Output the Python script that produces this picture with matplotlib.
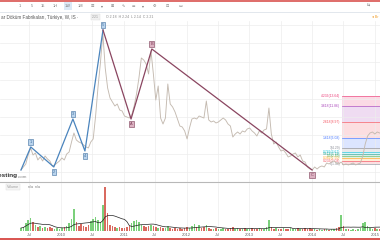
import matplotlib
matplotlib.use("Agg")
import matplotlib.pyplot as plt
import numpy as np
import pandas as pd

plt.rcParams["font.family"] = ["Liberation Sans", "DejaVu Sans"]

# closes, taken every two weeks (TL)
start = "2009-05-13"
closes = [
    0.41, 0.95, 1.48, 3.09, 4.35, 3.09, 3.45, 2.20, 2.74, 2.02,
    2.92, 2.38, 2.02, 1.13, 1.31, 1.66, 2.02, 2.56, 2.20, 3.27,
    3.63, 5.42, 7.03, 5.78, 5.42, 5.24, 4.88, 4.53, 4.35, 5.42,
    5.96, 10.07, 15.26, 19.55, 24.92, 18.66, 15.08, 13.29, 12.58, 11.86,
    12.22, 11.14, 10.97, 10.07, 9.89, 9.71, 10.25, 11.86, 14.01, 16.87,
    20.45, 20.09, 19.37, 17.59, 21.70, 17.59, 12.93, 15.44, 9.71, 8.64,
    9.71, 15.80, 12.22, 11.68, 10.79, 9.53, 8.28, 8.10, 7.39, 5.96,
    7.92, 9.53, 9.71, 9.53, 10.07, 9.89, 9.71, 12.75, 9.36, 9.00,
    9.18, 8.82, 9.00, 9.36, 9.71, 9.36, 8.64, 8.28, 6.31, 6.85,
    7.21, 6.85, 7.39, 7.21, 7.75, 7.92, 7.39, 7.03, 6.49, 7.39,
    7.03, 7.57, 7.75, 11.50, 6.85, 5.06, 5.42, 4.53, 3.81, 3.99,
    3.45, 2.74, 2.92, 3.27, 3.45, 2.74, 3.09, 2.02, 1.84, 0.95,
    0.59, 0.41, 0.95, 0.59, 0.95, 1.13, 0.95, 1.66, 1.48, 1.84,
    2.02, 1.66, 1.48, 1.84, 1.31, 1.48, 1.31, 1.48, 1.66, 1.31,
    1.48, 1.66, 2.92, 5.06, 6.49, 7.03, 7.21, 6.85, 7.21, 7.03,
]
# volume, millions of shares
volumes = [
    1.5, 2.0, 4.0, 5.5, 6.5, 4.5, 3.0, 2.0, 2.5, 1.5,
    2.0, 1.5, 2.0, 1.5, 1.0, 1.5, 1.0, 1.5, 2.0, 2.5,
    4.0, 6.0, 11.0, 4.5, 2.5, 3.5, 2.5, 2.0, 3.0, 5.0,
    6.0, 7.0, 5.5, 4.5, 13.0, 22.0, 9.0, 3.0, 2.5, 2.0,
    1.5, 2.0, 1.5, 1.5, 2.0, 2.5, 4.0, 5.0, 5.5, 4.5,
    3.0, 2.5, 2.0, 2.5, 3.0, 2.5, 2.0, 1.5, 2.0, 1.5,
    1.5, 2.5, 1.5, 1.0, 1.5, 1.0, 1.5, 1.0, 1.5, 2.0,
    1.5, 2.5, 3.5, 2.0, 3.0, 1.5, 2.0, 3.0, 1.5, 1.0,
    1.0, 1.5, 1.0, 1.0, 1.5, 1.0, 1.0, 1.5, 2.0, 1.0,
    1.5, 1.0, 1.0, 1.5, 1.0, 1.0, 1.5, 1.0, 1.0, 1.5,
    1.0, 1.0, 2.0, 5.5, 2.0, 1.0, 1.5, 1.0, 1.0, 1.5,
    1.0, 1.0, 1.5, 1.0, 1.0, 1.5, 1.0, 1.0, 1.5, 1.0,
    1.5, 1.0, 1.0, 0.5, 1.0, 0.5, 1.0, 1.0, 0.5, 1.0,
    1.0, 1.5, 2.0, 8.0, 2.5, 1.0, 1.0, 0.5, 1.0, 0.5,
    1.0, 1.5, 4.0, 4.5, 2.5, 1.5, 1.0, 1.5, 1.0, 1.0,
]

# impulse wave (blue) and correction (maroon) pivots
wave_dates = ["2009-05-13", "2009-07-09", "2009-11-20", "2010-03-11", "2010-05-20", "2010-09-02"]
wave_prices = [0.41, 4.53, 0.95, 9.53, 3.81, 25.46]
wave_labels = ["", "1", "2", "3", "4", "5"]
abc_dates = ["2010-09-02", "2011-02-12", "2011-06-13", "2013-12-31"]
abc_prices = [25.46, 9.53, 22.06, 0.41]
abc_labels = ["", "A", "B", "C"]

# fib extension levels
fib_ratios = [0, 0.236, 0.382, 0.5, 0.618, 0.786, 1, 1.618, 2.618, 3.618, 4.236]
fib_prices = [1.40, 2.08, 2.50, 2.85, 3.19, 3.67, 4.29, 6.08, 8.97, 11.86, 13.64]
fib_colors = ["#787b86", "#f23645", "#ff9800", "#4caf50", "#089981", "#00bcd4",
              "#787b86", "#2962ff", "#f23645", "#9c27b0", "#e91e63"]
fib_start = "2014-06-23"
fib_end = "2015-06-30"

tick_dates = ["2009-07-01", "2010-01-01", "2010-07-01", "2011-01-01", "2011-07-01", "2012-01-01",
              "2012-07-01", "2013-01-01", "2013-07-01", "2014-01-01", "2014-07-01", "2015-01-01"]
tick_labels = ["Jul", "2010", "Jul", "2011", "Jul", "2012", "Jul", "2013", "Jul", "2014", "Jul", "2015"]

dates = pd.date_range(start, periods=len(closes), freq="14D")
close = pd.Series(closes, index=dates)
vol = pd.Series(volumes, index=dates)
xlim = (pd.Timestamp("2009-01-11"), pd.Timestamp("2015-01-30"))
ticks = pd.to_datetime(tick_dates)

W, H = 380, 240
fig = plt.figure(figsize=(3.8, 2.4), dpi=100)
fig.patch.set_facecolor("white")

ax = fig.add_axes([0, 1 - 182 / H, 1, (182 - 21) / H])
axv = fig.add_axes([0, 1 - 231 / H, 1, 48 / H])

grid_kw = dict(color="#ededed", lw=0.5)
for a in (ax, axv):
    a.set_xlim(*xlim)
    a.set_xticks(ticks)
    a.grid(True, axis="x", **grid_kw)
    a.tick_params(length=0)
    for s in a.spines.values():
        s.set_visible(False)
    a.set_facecolor("none")

# price panel
ax.set_ylim(-1.74, 27.07)
ax.set_yticks(np.arange(0, 27, 3.3))
ax.grid(True, axis="y", **grid_kw)
ax.set_xticklabels([])
ax.set_yticklabels([])
ax.spines["bottom"].set_visible(True)
ax.spines["bottom"].set_color("#b8b8b8")
ax.spines["bottom"].set_linewidth(0.8)

fs = pd.Timestamp(fib_start)
fe = pd.Timestamp(fib_end)
for i in range(1, len(fib_ratios)):
    ax.fill_between([fs, fe], fib_prices[i - 1], fib_prices[i],
                    color=fib_colors[i], alpha=0.16, lw=0, zorder=1)
for r, p, c in zip(fib_ratios, fib_prices, fib_colors):
    ax.plot([fs, fe], [p, p], color=c, lw=0.5, alpha=0.75, zorder=2)
    ax.annotate(f"{r:g}({p:.2f})", (fs, p), xytext=(-1.2, 0), textcoords="offset points",
                ha="right", va="center", fontsize=2.4, color=c, alpha=0.85, zorder=3)

ax.plot(close.index, close.values, color="#c4bab0", lw=0.65, zorder=3)


def draw_wave(dts, prices, labels, line_c, face_c, edge_c):
    dts = pd.to_datetime(dts)
    ax.plot(dts, prices, color=line_c, lw=0.9, zorder=4)
    for i in range(1, len(prices)):
        up = prices[i] > prices[i - 1]
        ax.annotate(labels[i], (dts[i], prices[i]), xytext=(0, 2.2 if up else -2.2),
                    textcoords="offset points", ha="center", va="bottom" if up else "top",
                    fontsize=2.8, color=edge_c, zorder=5,
                    bbox=dict(boxstyle="square,pad=0.3", fc=face_c, ec=edge_c, lw=0.4))


draw_wave(wave_dates, wave_prices, wave_labels, "#4a84bd", "#b9d3ec", "#3f6f9f")
draw_wave(abc_dates, abc_prices, abc_labels, "#8a4560", "#dcb2c2", "#7a3a55")

# volume panel
up = close.diff().fillna(0) >= 0
colors = np.where(up, "#7bd07b", "#d96a60")
axv.bar(vol.index, vol.values, width=9, color=colors, zorder=2)
axv.plot(vol.index, vol.rolling(10, min_periods=1).mean(), color="#222222", lw=0.5, zorder=3)
axv.set_ylim(0, 24)
axv.set_yticks([])
axv.set_xticklabels(tick_labels, fontsize=3, color="#666666")
axv.tick_params(axis="x", pad=1.2)

# page chrome in pixel coordinates
deco = fig.add_axes([0, 0, 1, 1], zorder=10)
deco.set_xlim(0, W)
deco.set_ylim(H, 0)
deco.axis("off")
deco.axhline(0.6, color="#d9534f", lw=1.2)
deco.axhline(11.5, color="#dde3ea", lw=0.6)
deco.axhline(239.3, color="#d9534f", lw=1.4)
toolbar = [(20, "1"), (32, "5"), (43, "15"), (55, "1H"), (68, "1W"), (80, "1M"), (92, "☰"),
           (102, "▾"), (112, "⊞"), (123, "∿"), (133, "⚌"), (143, "▾"), (154, "⚙"), (167, "⊡"), (180, "▭"),
           (368, "⇆")]
for x, t in toolbar:
    kw = dict(boxstyle="square,pad=0.4", fc="#dbe9f6", ec="none") if t == "1W" else None
    deco.text(x, 6, t, fontsize=2.8, color="#777777", ha="center", va="center", bbox=kw)
deco.text(1, 17, "ar Döküm Fabrikaları, Türkiye, W, IS ·", fontsize=3.3, color="#555555",
          ha="left", va="center")
deco.text(92, 17, "2.21", fontsize=2.5, color="#999999", ha="left", va="center",
          bbox=dict(boxstyle="square,pad=0.3", fc="#f0f0f0", ec="#dddddd", lw=0.3))
deco.text(106, 17, "O 2.18  H 2.24  L 2.14  C 2.21", fontsize=2.5, color="#888888",
          ha="left", va="center")
deco.text(378, 17, "◂ Br", fontsize=2.6, color="#f0a030", ha="right", va="center")
deco.text(18, 176, "Investing", fontsize=4.6, fontweight="bold", color="#333333",
          ha="right", va="center")
deco.text(18, 176.5, ".com", fontsize=3.2, color="#888888", ha="left", va="center")
deco.text(7, 187, "Volume", fontsize=2.6, color="#999999", ha="left", va="center",
          bbox=dict(boxstyle="square,pad=0.3", fc="#f4f4f4", ec="#dddddd", lw=0.3))
deco.text(28, 187, "n/a  n/a", fontsize=2.6, color="#777777", ha="left", va="center")

fig.savefig("out.png", dpi=100)
plt.close(fig)
